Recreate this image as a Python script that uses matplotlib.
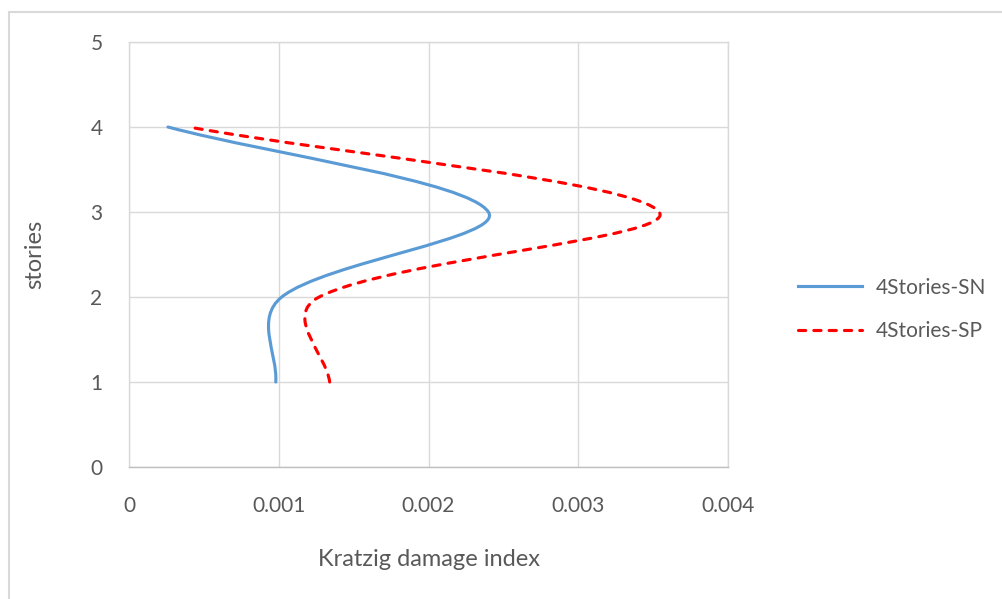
import matplotlib
matplotlib.use("Agg")
import matplotlib.pyplot as plt
from matplotlib.path import Path
from matplotlib.patches import PathPatch, Rectangle
from matplotlib.lines import Line2D
import numpy as np

stories = [1, 2, 3, 4]
sn_values = [0.00098, 0.00102, 0.00240, 0.00026]
sp_values = [0.00134, 0.00127, 0.00354, 0.00040]
series_names = ["4Stories-SN", "4Stories-SP"]
x_ticks = [0, 0.001, 0.002, 0.003, 0.004]
x_tick_labels = ["0", "0.001", "0.002", "0.003", "0.004"]
y_ticks = [0, 1, 2, 3, 4, 5]

plt.rcParams['font.family'] = ['Lato', 'DejaVu Sans']
TXT = '#595959'


def smooth_path(ax, xs, ys):
    """Smooth Bezier curve through the data points, computed in screen space."""
    pts = ax.transData.transform(np.column_stack([xs, ys]).astype(float))
    n = len(pts)
    t_in = [None] * n
    t_out = [None] * n
    for i in range(n):
        if i == 0:
            t_out[i] = (pts[1] - pts[0]) / 3.0
        elif i == n - 1:
            t_in[i] = (pts[-1] - pts[-2]) / 3.0
        else:
            T = pts[i + 1] - pts[i - 1]
            dp = np.sqrt(np.linalg.norm(pts[i] - pts[i - 1]))
            dn = np.sqrt(np.linalg.norm(pts[i + 1] - pts[i]))
            t_in[i] = T * dp / (dp + dn) / 3.0
            t_out[i] = T * dn / (dp + dn) / 3.0
    verts = [pts[0]]
    codes = [Path.MOVETO]
    for i in range(n - 1):
        verts += [pts[i] + t_out[i], pts[i + 1] - t_in[i + 1], pts[i + 1]]
        codes += [Path.CURVE4] * 3
    verts = ax.transData.inverted().transform(np.array(verts))
    return Path(verts, codes)


fig = plt.figure(figsize=(10.03, 5.99), dpi=100)
ax = fig.add_axes([129 / 1003, 1 - 467 / 599, (728 - 129) / 1003, (467 - 42) / 599])
ax.set_xlim(0, 0.004)
ax.set_ylim(0, 5)

blue = '#5b9bd5'
red = '#ff0000'
dash = (0, (2.3, 2.6))
p1 = PathPatch(smooth_path(ax, sn_values, stories), facecolor='none', edgecolor=blue,
               lw=2.25, capstyle='round', joinstyle='round', zorder=3)
p2 = PathPatch(smooth_path(ax, sp_values, stories), facecolor='none', edgecolor=red,
               lw=2.25, linestyle=dash, capstyle='round', zorder=3)
ax.add_patch(p1)
ax.add_patch(p2)

ax.set_xticks(x_ticks)
ax.set_xticklabels(x_tick_labels)
ax.set_yticks(y_ticks)
ax.grid(True, color='#d9d9d9', lw=1)
ax.set_axisbelow(True)
for s in ax.spines.values():
    s.set_color('#d9d9d9')
    s.set_linewidth(1)
ax.spines['bottom'].set_color('#bfbfbf')
ax.tick_params(length=0, colors=TXT, labelsize=15)
ax.tick_params(axis='x', pad=21)
ax.tick_params(axis='y', pad=19)
ax.set_xlabel('Kratzig damage index', fontsize=17, color=TXT)
ax.set_ylabel('stories', fontsize=17, color=TXT)
ax.xaxis.set_label_coords(0.5, -(560 - 467) / 425)
ax.xaxis.label.set_va('center')
ax.yaxis.set_label_coords((35 - 129) / 599, 0.5)
ax.yaxis.label.set_va('center')
ax.yaxis.label.set_ha('center')

handles = [Line2D([], [], color=blue, lw=2.25),
           Line2D([], [], color=red, lw=2.25, linestyle=dash, dash_capstyle='round')]
fig.legend(handles, series_names, loc='center left', bbox_to_anchor=(798 / 1003, 1 - 309.5 / 599),
           frameon=False, fontsize=15, labelcolor=TXT, handlelength=3.05, labelspacing=1.15,
           handletextpad=0.7, borderpad=0, borderaxespad=0)

fig.patches.append(Rectangle((9 / 1003, -0.1), 1.1, 1 - 12 / 599 + 0.1, transform=fig.transFigure,
                             fill=False, edgecolor='#d9d9d9', lw=1.5))

fig.savefig('out.png', dpi=100)
